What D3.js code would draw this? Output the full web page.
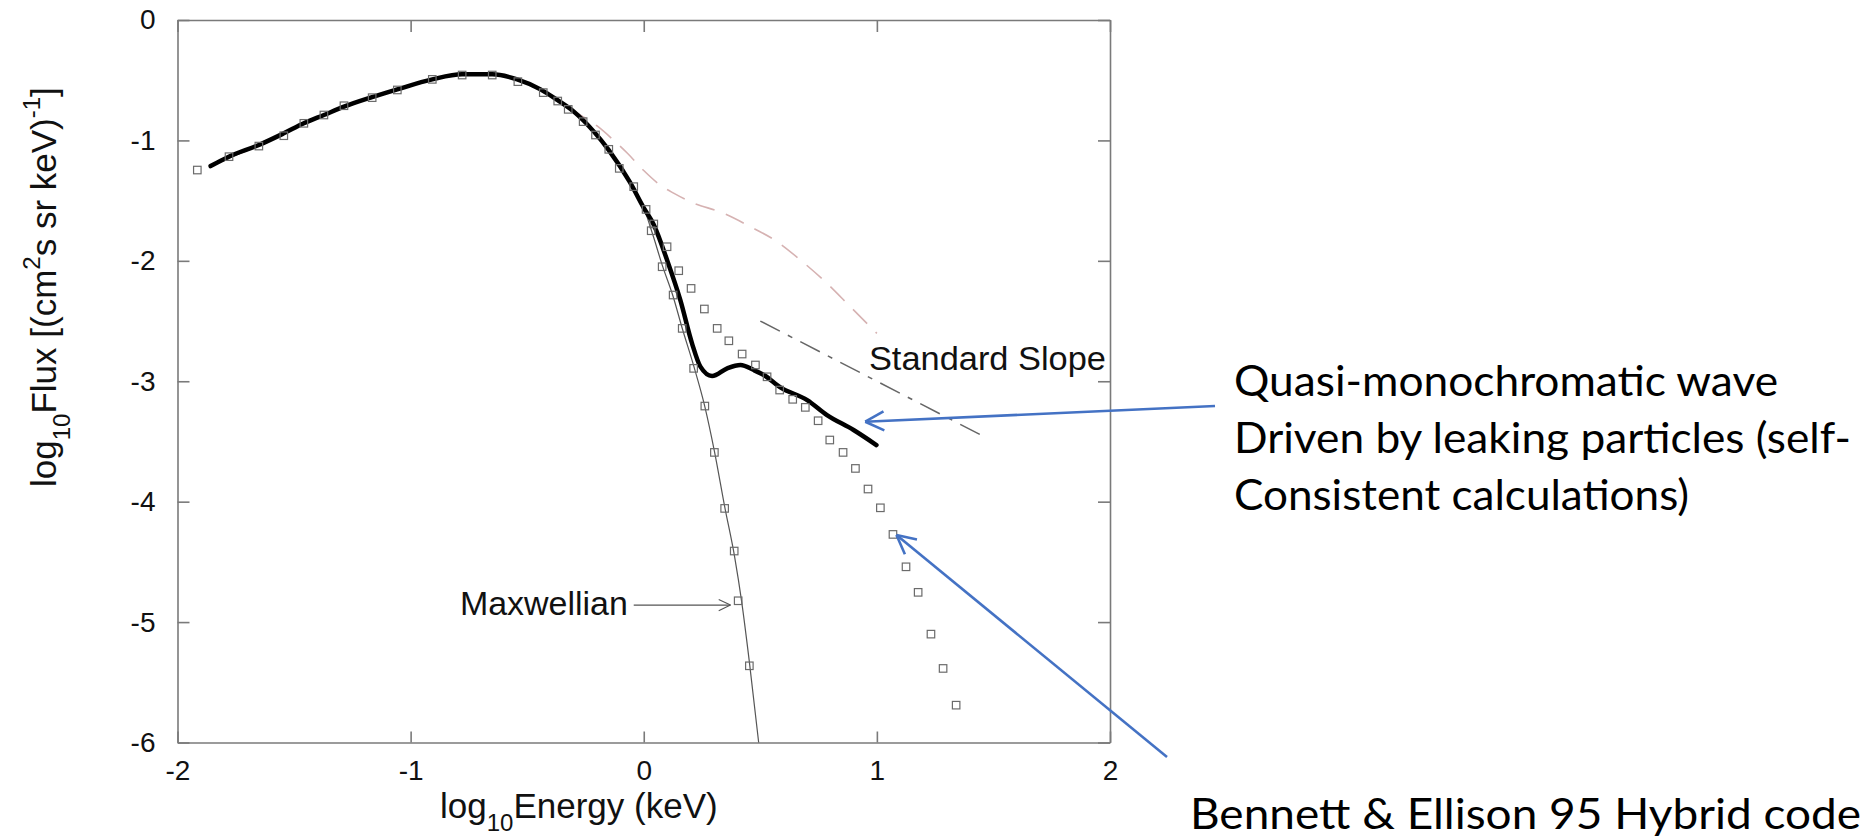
<!DOCTYPE html>
<html>
<head>
<meta charset="utf-8">
<script src="https://cdn.jsdelivr.net/npm/d3@7"></script>
<style>
  body { margin: 0; background: #fff; }
  svg { display: block; font-family: "Liberation Sans", Arial, sans-serif; }
  .note { font-family: Lato, "Open Sans", sans-serif; }
</style>
</head>
<body>
<div id="my_chart"></div>
<script>
// axis ticks
var xTicks = [-2, -1, 0, 1, 2];
var yTicks = [0, -1, -2, -3, -4, -5, -6];

// self-consistent calculation (thick black curve), [log10 E, log10 flux]
var selfConsistent = [[-1.858,-1.213],[-1.78,-1.135],[-1.651,-1.038],[-1.544,-0.941],[-1.458,-0.858],
  [-1.372,-0.789],[-1.286,-0.72],[-1.172,-0.645],[-1.057,-0.576],[-0.907,-0.493],[-0.779,-0.451],
  [-0.65,-0.451],[-0.543,-0.493],[-0.443,-0.576],[-0.371,-0.664],[-0.3,-0.761],[-0.214,-0.927],
  [-0.15,-1.08],[-0.06,-1.345],[0,-1.56],[0.043,-1.7],[0.1,-1.993],[0.157,-2.326],[0.207,-2.685],
  [0.243,-2.879],[0.293,-2.957],[0.358,-2.893],[0.415,-2.865],[0.472,-2.907],[0.515,-2.948],
  [0.586,-3.051],[0.701,-3.156],[0.786,-3.281],[0.9,-3.405],[0.998,-3.53]];

// Maxwellian (thin line)
var maxwellLine = [[-1.858,-1.213],[-1.651,-1.038],[-1.458,-0.858],[-1.286,-0.72],[-1.057,-0.576],
  [-0.907,-0.493],[-0.779,-0.451],[-0.65,-0.451],[-0.543,-0.493],[-0.443,-0.576],[-0.3,-0.761],
  [-0.214,-0.927],[-0.15,-1.08],[-0.06,-1.345],[0,-1.56],[0.04,-1.79],[0.08,-2.04],[0.125,-2.29],
  [0.165,-2.56],[0.214,-2.87],[0.262,-3.21],[0.303,-3.58],[0.347,-4.04],[0.39,-4.46],[0.42,-4.83],
  [0.453,-5.33],[0.493,-6.0]];

// light dashed curve
var dashedCurve = [[-1.858,-1.213],[-1.651,-1.038],[-1.458,-0.858],[-1.286,-0.72],[-1.057,-0.576],
  [-0.907,-0.493],[-0.779,-0.451],[-0.65,-0.451],[-0.543,-0.493],[-0.443,-0.576],[-0.371,-0.66],
  [-0.3,-0.755],[-0.2,-0.88],[-0.13,-0.997],[-0.07,-1.107],[0,-1.25],[0.07,-1.37],[0.13,-1.44],
  [0.2,-1.509],[0.343,-1.606],[0.458,-1.717],[0.572,-1.841],[0.672,-1.993],[0.786,-2.187],
  [0.886,-2.381],[1.0,-2.602]];

// standard slope reference line
var standardSlope = [[0.5,-2.5],[1.47,-3.47]];

// Bennett & Ellison 95 hybrid code (squares)
var hybridPts = [[-1.915,-1.246],[-1.779,-1.135],[-1.651,-1.047],[-1.544,-0.961],[-1.458,-0.858],
  [-1.372,-0.789],[-1.286,-0.712],[-1.165,-0.645],[-1.057,-0.581],[-0.907,-0.493],[-0.779,-0.457],
  [-0.65,-0.457],[-0.54,-0.512],[-0.431,-0.603],[-0.369,-0.673],[-0.324,-0.742],[-0.26,-0.844],
  [-0.207,-0.955],[-0.15,-1.074],[-0.105,-1.232],[-0.043,-1.384],[0.01,-1.573],[0.043,-1.694],
  [0.1,-1.883],[0.15,-2.082],[0.203,-2.229],[0.26,-2.4],[0.315,-2.561],[0.365,-2.664],[0.422,-2.774],
  [0.479,-2.865],[0.529,-2.963],[0.583,-3.073],[0.639,-3.15],[0.693,-3.217],[0.748,-3.328],
  [0.798,-3.488],[0.855,-3.591],[0.908,-3.724],[0.962,-3.895],[1.015,-4.051],[1.069,-4.272],
  [1.125,-4.541],[1.177,-4.753],[1.232,-5.1],[1.284,-5.385],[1.34,-5.69]];

// squares on the Maxwellian branch
var maxwellPts = [[0.032,-1.75],[0.079,-2.049],[0.126,-2.284],[0.165,-2.561],[0.214,-2.893],
  [0.262,-3.206],[0.303,-3.591],[0.347,-4.056],[0.388,-4.41],[0.405,-4.823],[0.453,-5.363]];

var width = 1876, height = 838;
var plot = {left: 177.5, right: 1110, top: 20, bottom: 742.5};

var x = d3.scaleLinear().domain([-2, 2]).range([plot.left, plot.right]);
var y = d3.scaleLinear().domain([-6, 0]).range([plot.bottom, plot.top]);

var svg = d3.select("#my_chart")
  .append("svg")
  .attr("width", width)
  .attr("height", height);

// axes (box with inward ticks)
function styleAxis(g) {
  g.attr("font-family", null).attr("font-size", null);
  g.selectAll("path, line").attr("stroke", "#7a7a7a").attr("stroke-width", 1.6);
  g.selectAll("text").attr("font-size", 28).attr("fill", "#111");
}

var plain = d => String(d);   // hyphen-minus like the original

svg.append("g")
  .attr("transform", "translate(0," + plot.bottom + ")")
  .call(d3.axisBottom(x).tickValues(xTicks).tickSizeInner(-11).tickSizeOuter(0).tickPadding(18).tickFormat(plain))
  .call(styleAxis);

svg.append("g")
  .attr("transform", "translate(" + plot.left + ",0)")
  .call(d3.axisLeft(y).tickValues(yTicks).tickSizeInner(-12).tickSizeOuter(0).tickPadding(22).tickFormat(plain))
  .call(styleAxis);

svg.append("g")
  .attr("transform", "translate(0," + plot.top + ")")
  .call(d3.axisTop(x).tickValues(xTicks).tickSizeInner(-12).tickSizeOuter(0).tickFormat(""))
  .call(styleAxis);

svg.append("g")
  .attr("transform", "translate(" + plot.right + ",0)")
  .call(d3.axisRight(y).tickValues(yTicks).tickSizeInner(-12).tickSizeOuter(0).tickFormat(""))
  .call(styleAxis);

// axis titles
var xt = svg.append("text")
  .attr("x", 440).attr("y", 818)
  .attr("font-size", 35).attr("fill", "#111");
xt.append("tspan").text("log");
xt.append("tspan").attr("font-size", 24).attr("dy", 13).text("10");
xt.append("tspan").attr("dy", -13).text("Energy (keV)");

var yt = svg.append("text")
  .attr("transform", "translate(56,487) rotate(-90)")
  .attr("font-size", 35).attr("fill", "#111");
yt.append("tspan").text("log");
yt.append("tspan").attr("font-size", 24).attr("dy", 14).text("10");
yt.append("tspan").attr("dy", -14).text("Flux [(cm");
yt.append("tspan").attr("font-size", 24).attr("dy", -16).text("2");
yt.append("tspan").attr("dy", 16).text("s sr keV)");
yt.append("tspan").attr("font-size", 24).attr("dy", -16).text("-1");
yt.append("tspan").attr("dy", 16).text("]");

// lines
var line = d3.line()
  .x(d => x(d[0]))
  .y(d => y(d[1]))
  .curve(d3.curveMonotoneX);

svg.append("path")
  .datum(dashedCurve)
  .attr("d", line)
  .attr("fill", "none")
  .attr("stroke", "#d6b2b2")
  .attr("stroke-width", 1.6)
  .attr("stroke-dasharray", "20,12");

svg.append("path")
  .datum(maxwellLine)
  .attr("d", line)
  .attr("fill", "none")
  .attr("stroke", "#555")
  .attr("stroke-width", 1.2);

svg.append("path")
  .datum(standardSlope)
  .attr("d", d3.line().x(d => x(d[0])).y(d => y(d[1])))
  .attr("fill", "none")
  .attr("stroke", "#666")
  .attr("stroke-width", 1.5)
  .attr("stroke-dasharray", "22,9,5,9");

svg.append("path")
  .datum(selfConsistent)
  .attr("d", line)
  .attr("fill", "none")
  .attr("stroke", "#000")
  .attr("stroke-width", 4.5)
  .attr("stroke-linecap", "round")
  .attr("stroke-linejoin", "round");

// square markers
var sq = 7.5;
svg.append("g")
  .selectAll("rect")
  .data(hybridPts.concat(maxwellPts))
  .enter().append("rect")
  .attr("x", d => x(d[0]) - sq / 2)
  .attr("y", d => y(d[1]) - sq / 2)
  .attr("width", sq)
  .attr("height", sq)
  .attr("fill", "none")
  .attr("stroke", "#6b6b6b")
  .attr("stroke-width", 1.2);

// open arrow helper
function arrow(x1, y1, x2, y2, len, spread, color, w) {
  var g = svg.append("g").attr("stroke", color).attr("stroke-width", w).attr("fill", "none");
  g.append("line").attr("x1", x1).attr("y1", y1).attr("x2", x2).attr("y2", y2);
  var a = Math.atan2(y1 - y2, x1 - x2);
  [-spread, spread].forEach(s => {
    g.append("line")
      .attr("x1", x2).attr("y1", y2)
      .attr("x2", x2 + len * Math.cos(a + s))
      .attr("y2", y2 + len * Math.sin(a + s));
  });
}

// in-plot labels
svg.append("text")
  .attr("x", x(-0.068)).attr("y", y(-4.94))
  .attr("text-anchor", "end")
  .attr("font-size", 34).attr("fill", "#111")
  .attr("textLength", 168).attr("lengthAdjust", "spacingAndGlyphs")
  .text("Maxwellian");
arrow(x(-0.043), y(-4.859), x(0.372), y(-4.859), 13, 0.44, "#555", 1.1);

svg.append("text")
  .attr("x", x(0.966)).attr("y", y(-2.907))
  .attr("font-size", 33).attr("fill", "#111")
  .attr("textLength", 237).attr("lengthAdjust", "spacingAndGlyphs")
  .text("Standard Slope");

// slide annotations
var blue = "#4472c4";
arrow(1215, 406, x(0.95), y(-3.336), 21, 0.47, blue, 2.6);
arrow(1167, 757, x(1.084), y(-4.277), 21, 0.47, blue, 2.6);

var note = svg.append("g")
  .attr("class", "note")
  .attr("font-size", 42)
  .attr("fill", "#000");

var noteLines = [
  {t: "Quasi-monochromatic wave", y: 396, w: 544},
  {t: "Driven by leaking particles (self-", y: 453, w: 617},
  {t: "Consistent calculations)", y: 510, w: 455}
];
noteLines.forEach(d => {
  note.append("text")
    .attr("x", 1234).attr("y", d.y)
    .attr("textLength", d.w).attr("lengthAdjust", "spacingAndGlyphs")
    .text(d.t);
});

note.append("text")
  .attr("x", 1190).attr("y", 829)
  .attr("textLength", 671).attr("lengthAdjust", "spacingAndGlyphs")
  .text("Bennett & Ellison 95 Hybrid code");
</script>
</body>
</html>
